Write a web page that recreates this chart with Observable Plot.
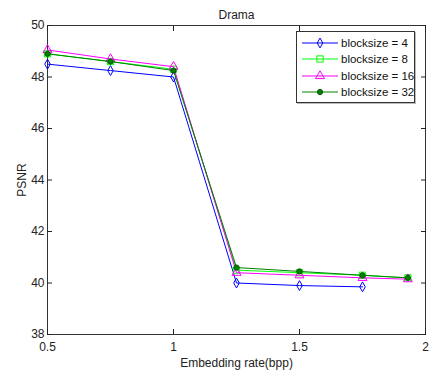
<!DOCTYPE html>
<html>
<head>
<meta charset="utf-8">
<script src="https://cdn.jsdelivr.net/npm/d3@7"></script>
<script src="https://cdn.jsdelivr.net/npm/@observablehq/plot@0.6"></script>
<style>
  html, body { margin: 0; padding: 0; background: #fff; }
  #wrap { position: relative; width: 430px; height: 371px; font-family: "Liberation Sans", Arial, sans-serif; }
  #legend { position: absolute; left: 296px; top: 31px; width: 119px; height: 72px; border: 1px solid #333; background: #fff; box-sizing: border-box; box-shadow: 1px 1px 0 #bbb; }
  #legend .row { position: absolute; left: 0; height: 16px; display: flex; align-items: center; font-size: 11.5px; color: #111; white-space: nowrap; }
  #legend svg { display: block; flex: none; }
</style>
</head>
<body>
<div id="wrap"><div id="chart"></div><div id="legend"></div></div>
<script>
// ---- data ----
const seriesNames = ["blocksize = 4", "blocksize = 8", "blocksize = 16", "blocksize = 32"];
const rates4  = [0.5, 0.75, 1.0, 1.25, 1.5, 1.75];
const psnr4   = [48.5, 48.25, 48.0, 40.0, 39.9, 39.85];
const rates8  = [0.5, 0.75, 1.0, 1.25, 1.5, 1.75, 1.93];
const psnr8   = [48.9, 48.6, 48.3, 40.5, 40.4, 40.3, 40.2];
const rates16 = [0.5, 0.75, 1.0, 1.25, 1.5, 1.75, 1.93];
const psnr16  = [49.05, 48.7, 48.4, 40.4, 40.3, 40.2, 40.15];
const rates32 = [0.5, 0.75, 1.0, 1.25, 1.5, 1.75, 1.93];
const psnr32  = [48.9, 48.6, 48.25, 40.6, 40.45, 40.3, 40.2];
const xTicks = [0.5, 1, 1.5, 2];
const yTicks = [38, 40, 42, 44, 46, 48, 50];

const colors = ["#0000ff", "#00ff00", "#ff00ff", "#008000"];

// tall MATLAB-like diamond
const tallDiamond = {
  draw(context, size) {
    const r = Math.sqrt(size / Math.PI);
    const w = r * 0.65, h = r * 1.15;
    context.moveTo(0, -h);
    context.lineTo(w, 0);
    context.lineTo(0, h);
    context.lineTo(-w, 0);
    context.closePath();
  }
};
const symbols = [tallDiamond, d3.symbolSquare2, d3.symbolTriangle2, d3.symbolCircle];
const radii = [4.3, 4.0, 4.3, 2.6];

const sets = [[rates4, psnr4], [rates8, psnr8], [rates16, psnr16], [rates32, psnr32]];
const rows = sets.flatMap(([xs, ys], i) => xs.map((x, j) => ({series: i, x, y: ys[j]})));

const marks = [];
sets.forEach((_, i) => {
  const d = rows.filter(r => r.series === i);
  marks.push(Plot.line(d, {x: "x", y: "y", stroke: colors[i], strokeWidth: 1}));
  if (i === 3) {
    marks.push(Plot.dot(d, {x: "x", y: "y", r: radii[i], symbol: "circle", fill: colors[i], stroke: "#005a00", strokeWidth: 1}));
  } else {
    marks.push(Plot.dot(d, {x: "x", y: "y", r: radii[i], symbol: symbols[i], fill: "none", stroke: colors[i], strokeWidth: 1}));
  }
});

const chart = Plot.plot({
  width: 430,
  height: 371,
  marginLeft: 47,
  marginRight: 5,
  marginTop: 25,
  marginBottom: 37,
  style: {fontFamily: "Liberation Sans, Arial, sans-serif", fontSize: "12px", color: "#222", background: "#fff"},
  x: {domain: [0.5, 2]},
  y: {domain: [38, 50]},
  marks: [
    Plot.frame({stroke: "#333"}),
    Plot.axisX({ticks: xTicks, tickSize: -5, tickPadding: 13, tickFormat: d => String(d), label: "Embedding rate(bpp)", labelAnchor: "center", labelArrow: "none", labelOffset: 32, fontSize: 12}),
    Plot.axisX({anchor: "top", ticks: xTicks, tickSize: -5, tickFormat: () => "", label: null}),
    Plot.axisY({ticks: yTicks, tickSize: -5, tickPadding: 8, label: "PSNR", labelAnchor: "center", labelArrow: "none", labelOffset: 30, fontSize: 12}),
    Plot.axisY({anchor: "right", ticks: yTicks, tickSize: -5, tickFormat: () => "", label: null}),
    Plot.text(["Drama"], {frameAnchor: "top", dy: -15, fontSize: 12, fill: "#222"}),
    ...marks
  ]
});
document.getElementById("chart").appendChild(chart);

// legend
const legend = document.getElementById("legend");
seriesNames.forEach((name, i) => {
  const row = document.createElement("div");
  row.className = "row";
  row.style.top = (3 + i * 16.4) + "px";
  const svg = d3.create("svg").attr("width", 44).attr("height", 16);
  svg.append("line").attr("x1", 5).attr("x2", 41).attr("y1", 8).attr("y2", 8).attr("stroke", colors[i]).attr("stroke-width", 1);
  const size = Math.PI * radii[i] * radii[i];
  svg.append("path")
    .attr("transform", "translate(23,8)")
    .attr("d", d3.symbol(symbols[i], size)())
    .attr("fill", i === 3 ? colors[i] : "none")
    .attr("stroke", i === 3 ? "#005a00" : colors[i]);
  row.appendChild(svg.node());
  const span = document.createElement("span");
  span.textContent = name;
  row.appendChild(span);
  legend.appendChild(row);
});
</script>
</body>
</html>
